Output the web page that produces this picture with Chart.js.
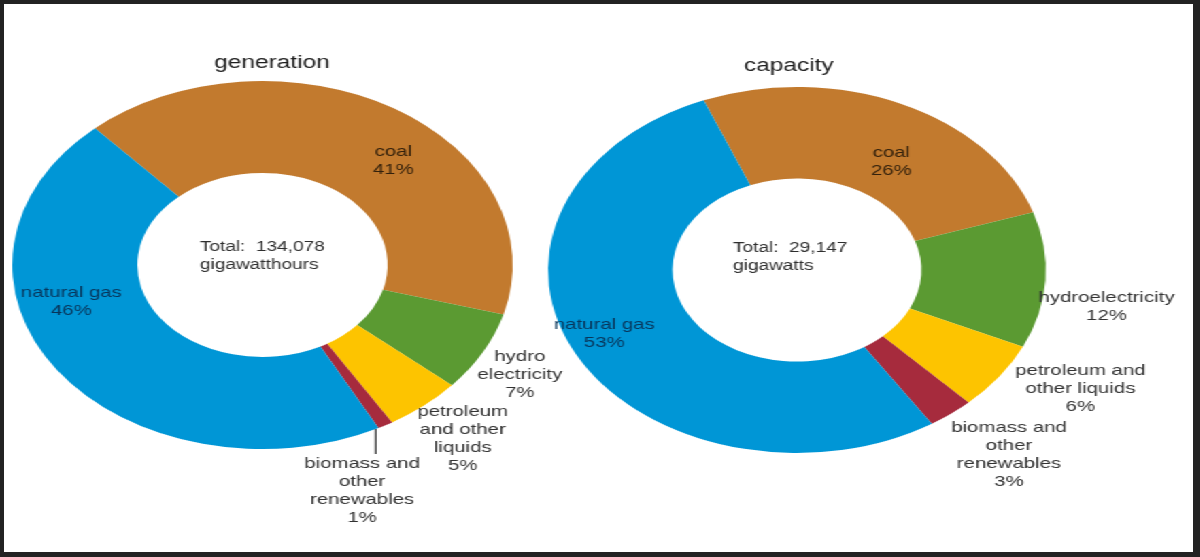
<!DOCTYPE html>
<html>
<head>
<meta charset="utf-8">
<title>Electricity generation and capacity</title>
<script src="https://cdn.jsdelivr.net/npm/chart.js@4.4.0/dist/chart.umd.min.js"></script>
<style>
  body { margin: 0; background: #fff; }
  #stage {
    position: absolute; left: 0; top: 0;
    width: 883px; height: 557px;
    transform: scaleX(1.36); transform-origin: 0 0;
  }
  #stage canvas { position: absolute; left: 0; top: 0; }
  #frame {
    position: absolute; left: 0; top: 0;
    width: 1200px; height: 557px; box-sizing: border-box;
    border-style: solid; border-color: #222;
    border-width: 4px 7px 5px 4px;
    pointer-events: none;
  }
</style>
</head>
<body>
<div id="stage">
  <canvas id="generationChart" width="883" height="557"></canvas>
  <canvas id="capacityChart" width="883" height="557"></canvas>
</div>
<div id="frame"></div>

<script>
// shares in percent, listed clockwise starting at coal
const sources = ['coal', 'hydro', 'petroleum', 'biomass', 'natural gas'];
const generationShare = [41, 7, 5, 1, 46];
const capacityShare = [26, 12, 6, 3, 53];

const generationNames = [
  ['coal'],
  ['hydro', 'electricity'],
  ['petroleum', 'and other', 'liquids'],
  ['biomass and', 'other', 'renewables'],
  ['natural gas']
];
const capacityNames = [
  ['coal'],
  ['hydroelectricity'],
  ['petroleum and', 'other liquids'],
  ['biomass and', 'other', 'renewables'],
  ['natural gas']
];

const generationTotal = ['Total:  134,078', 'gigawatthours'];
const capacityTotal = ['Total:  29,147', 'gigawatts'];

const sourceColors = ['#c27a2e', '#5b9a32', '#fdc400', '#a62b3d', '#0096d6'];
const insideTextColors = ['#33210c', null, null, null, '#08355a'];

const FONT = '"Liberation Sans", Arial, sans-serif';
const LINE = 18;

// draws the slice labels, the title above the ring and the total in the hole
const sliceLabels = {
  id: 'sliceLabels',
  afterDraw(chart, args, opts) {
    const ctx = chart.ctx;
    const arcs = chart.getDatasetMeta(0).data;
    const values = chart.data.datasets[0].data;
    ctx.save();
    ctx.textAlign = 'center';
    ctx.textBaseline = 'middle';
    ctx.font = '15px ' + FONT;

    let cx0 = 0, cy0 = 0, R = 0;
    arcs.forEach((arc, i) => {
      const p = arc.getProps(['x', 'y', 'startAngle', 'endAngle', 'outerRadius'], true);
      cx0 = p.x; cy0 = p.y; R = p.outerRadius;
      const pos = opts.placement[i];
      const mid = (p.startAngle + p.endAngle) / 2 + (pos.da || 0) * Math.PI / 180;
      const lines = opts.names[i].concat([values[i] + '%']);
      let x, y;
      if (pos.leader) {
        // short vertical pointer below a thin slice
        const ex = p.x + Math.cos(mid) * p.outerRadius;
        const ey = p.y + Math.sin(mid) * p.outerRadius;
        ctx.strokeStyle = '#333';
        ctx.lineWidth = 1.2;
        ctx.beginPath();
        ctx.moveTo(ex, ey);
        ctx.lineTo(ex, ey + pos.leader);
        ctx.stroke();
        x = ex + pos.dx;
        y = ey + pos.leader + pos.dy + (lines.length - 1) * LINE / 2;
      } else {
        x = p.x + Math.cos(mid) * p.outerRadius * pos.r;
        y = p.y + Math.sin(mid) * p.outerRadius * pos.r;
      }
      ctx.fillStyle = pos.r < 1 ? insideTextColors[i] : '#333';
      lines.forEach((t, k) => {
        ctx.fillText(t, x, y + (k - (lines.length - 1) / 2) * LINE);
      });
    });

    // title
    ctx.fillStyle = '#1e1e1e';
    ctx.font = '18px ' + FONT;
    ctx.fillText(opts.title, cx0 + opts.titleDx, cy0 - R + opts.titleDy);

    // total in the hole
    ctx.textAlign = 'left';
    ctx.fillStyle = '#2e2e2e';
    ctx.font = '14px ' + FONT;
    opts.total.forEach((t, k) => {
      ctx.fillText(t, cx0 + opts.totalDx, cy0 + opts.totalDy + k * LINE);
    });
    ctx.restore();
  }
};

function makeDonut(id, share, names, total, title, rotation, padding, extra) {
  return new Chart(document.getElementById(id), {
    type: 'doughnut',
    data: {
      labels: sources,
      datasets: [{
        data: share,
        backgroundColor: sourceColors,
        borderWidth: 0
      }]
    },
    options: {
      responsive: false,
      animation: false,
      events: [],
      rotation: rotation,
      cutout: '50%',
      layout: { padding: padding },
      plugins: {
        legend: { display: false },
        tooltip: { enabled: false },
        sliceLabels: Object.assign({ names: names, total: total, title: title }, extra)
      }
    },
    plugins: [sliceLabels]
  });
}

makeDonut('generationChart', generationShare, generationNames, generationTotal, 'generation', -42,
  { left: 9, right: 506, top: 81, bottom: 108 },
  {
    titleDx: 7, titleDy: -18,
    totalDx: -46, totalDy: -18,
    placement: [
      { r: 0.77, da: 11 },
      { r: 1.19, da: 2 },
      { r: 1.24, da: 0 },
      { r: 2, da: 2.5, leader: 25, dx: -10, dy: 10 },
      { r: 0.79, da: 20 }
    ]
  });

makeDonut('capacityChart', capacityShare, capacityNames, capacityTotal, 'capacity', -22,
  { left: 403, right: 114, top: 87, bottom: 104 },
  {
    titleDx: -6, titleDy: -21,
    totalDx: -47, totalDy: -22,
    placement: [
      { r: 0.70, da: 8 },
      { r: 1.26, da: 6 },
      { r: 1.31, da: -6 },
      { r: 1.32, da: -2 },
      { r: 0.85, da: 3 }
    ]
  });
</script>
</body>
</html>
